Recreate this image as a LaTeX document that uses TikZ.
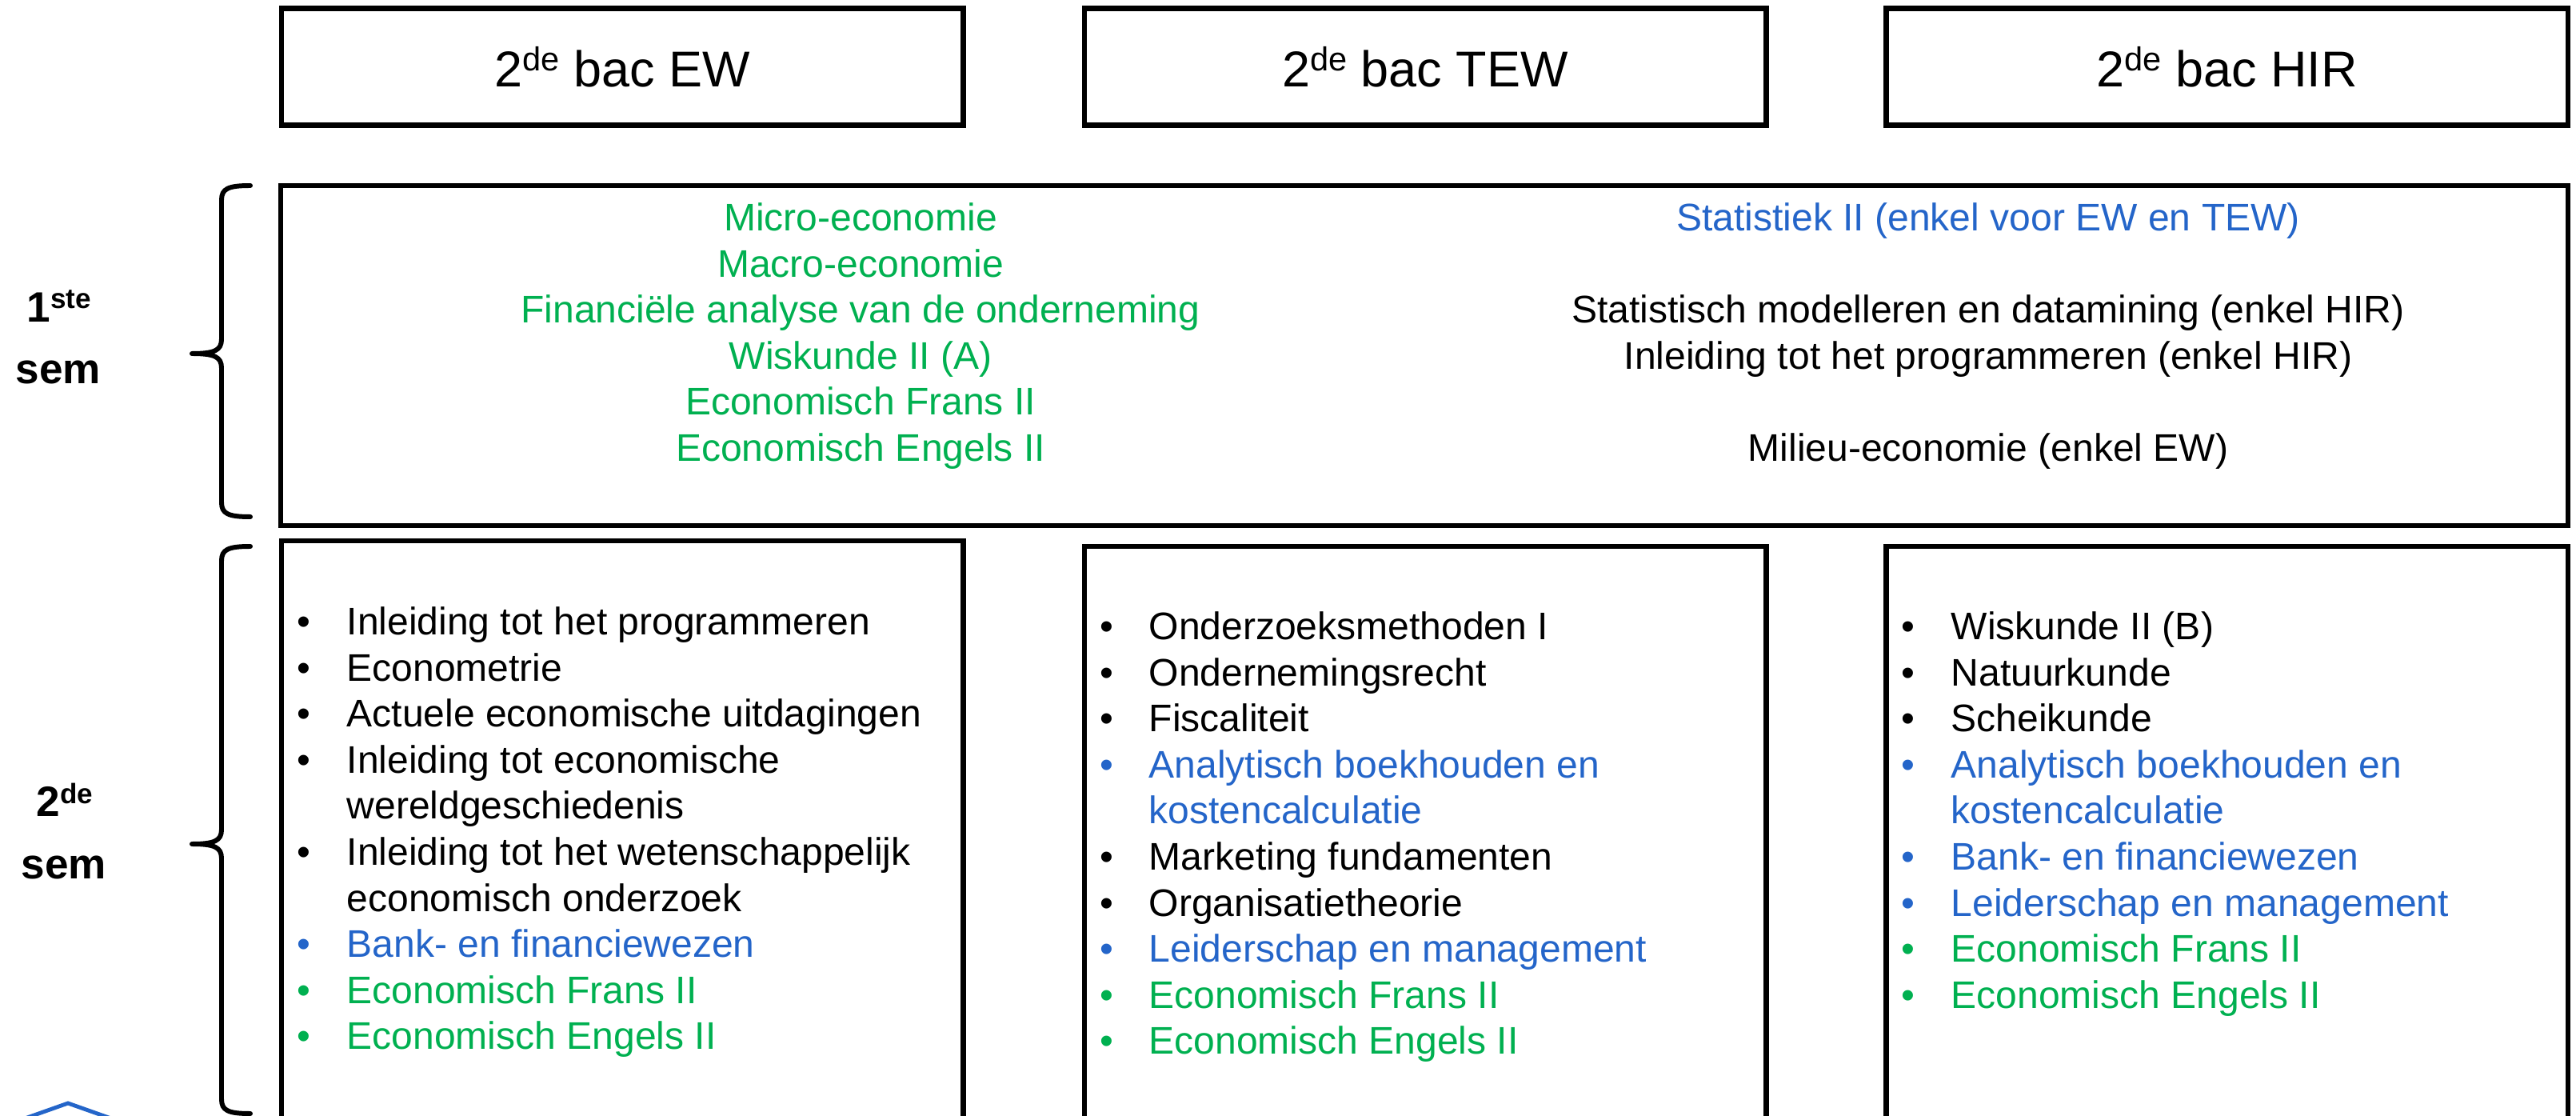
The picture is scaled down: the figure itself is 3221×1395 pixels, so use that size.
\documentclass[tikz,border=0pt]{standalone}
\usepackage{fontspec}
\setmainfont{Liberation Sans}
\usepackage{graphicx}

\definecolor{vakgroen}{RGB}{0,176,80}
\definecolor{vakblauw}{RGB}{36,101,201}

% superscript as in the slide (2de, 1ste)
\newcommand{\supr}[1]{\raisebox{0.32em}{\scalebox{0.66}{#1}}}

\tikzset{
    % boxes
    frame/.style={draw, line width=1.85pt, inner sep=0pt},
    headbox/.style={frame, minimum width=8.52cm, minimum height=1.46cm,
        font=\fontsize{17.9}{21}\selectfont},
    listbox/.style={frame, minimum width=8.52cm, minimum height=7.64cm},
    % texts
    vak/.style={anchor=base, inner sep=0pt, font=\fontsize{13.66}{16}\selectfont},
    vakitem/.style={vak, anchor=base west},
    semlabel/.style={anchor=base, inner sep=0pt, font=\fontsize{15.1}{18}\selectfont\bfseries},
    % curly brackets
    accolade/.style={line width=1.7pt, line cap=round, line join=round},
}

\begin{document}
\begin{tikzpicture}[x=0.01cm, y=-0.01cm]
    \useasboundingbox (0,0) rectangle (3221,1395);
    \clip (0,0) rectangle (3221,1395);

    % Column heads
    \node[headbox] (hew)  at (778,83.5)    {2\supr{de} bac EW};
    \node[headbox] (htew) at (1782,83.5)   {2\supr{de} bac TEW};
    \node[headbox] (hhir) at (2784.5,83.5) {2\supr{de} bac HIR};

    % 1ste semester
    \node[frame, minimum width=28.58cm, minimum height=4.25cm] (sem1) at (1781,444.5) {};
    \foreach \naam [count=\k from 0] in {Micro-economie, Macro-economie,
        Financiële analyse van de onderneming, Wiskunde II (A),
        Economisch Frans II, Economisch Engels II}
        \node[vak, text=vakgroen] (gem\k) at (1076,289+57.5*\k) {\naam};
    \node[vak, text=vakblauw] (stat)   at (2486,289)   {Statistiek II (enkel voor EW en TEW)};
    \node[vak]                (datam)  at (2486,404)   {Statistisch modelleren en datamining (enkel HIR)};
    \node[vak]                (prog)   at (2486,461.5) {Inleiding tot het programmeren (enkel HIR)};
    \node[vak]                (milieu) at (2486,576.5) {Milieu-economie (enkel EW)};

    % 2de semester
    \node[listbox] (ew)  at (778,1058)    {};
    \node[listbox] (tew) at (1782,1065)   {};
    \node[listbox] (hir) at (2784.5,1065) {};

    \foreach \i/\bol/\kl/\naam in {0/1/black/Inleiding tot het programmeren,
        1/1/black/Econometrie, 2/1/black/Actuele economische uitdagingen,
        3/1/black/Inleiding tot economische, 4/0/black/wereldgeschiedenis,
        5/1/black/Inleiding tot het wetenschappelijk, 6/0/black/economisch onderzoek,
        7/1/vakblauw/Bank- en financiewezen, 8/1/vakgroen/Economisch Frans II,
        9/1/vakgroen/Economisch Engels II}{
        \node[vakitem, text=\kl] (ew\i) at (433,794+57.5*\i) {\naam};
        \ifnum\bol=1 \node[vak, text=\kl] (ewb\i) at (380,794+57.5*\i) {\textbullet}; \fi
    }

    \foreach \i/\bol/\kl/\naam in {0/1/black/Onderzoeksmethoden I,
        1/1/black/Ondernemingsrecht, 2/1/black/Fiscaliteit,
        3/1/vakblauw/Analytisch boekhouden en, 4/0/vakblauw/kostencalculatie,
        5/1/black/Marketing fundamenten, 6/1/black/Organisatietheorie,
        7/1/vakblauw/Leiderschap en management, 8/1/vakgroen/Economisch Frans II,
        9/1/vakgroen/Economisch Engels II}{
        \node[vakitem, text=\kl] (tew\i) at (1436,800+57.5*\i) {\naam};
        \ifnum\bol=1 \node[vak, text=\kl] (tewb\i) at (1384,800+57.5*\i) {\textbullet}; \fi
    }

    \foreach \i/\bol/\kl/\naam in {0/1/black/Wiskunde II (B),
        1/1/black/Natuurkunde, 2/1/black/Scheikunde,
        3/1/vakblauw/Analytisch boekhouden en, 4/0/vakblauw/kostencalculatie,
        5/1/vakblauw/Bank- en financiewezen, 6/1/vakblauw/Leiderschap en management,
        7/1/vakgroen/Economisch Frans II, 8/1/vakgroen/Economisch Engels II}{
        \node[vakitem, text=\kl] (hir\i) at (2439,800+57.5*\i) {\naam};
        \ifnum\bol=1 \node[vak, text=\kl] (hirb\i) at (2386,800+57.5*\i) {\textbullet}; \fi
    }

    % Semester labels and brackets
    \node[semlabel] (een)     at (74,403)  {1\supr{ste}};
    \node[semlabel] (eensem)  at (73,480)  {sem};
    \node[semlabel] (twee)    at (81,1021) {2\supr{de}};
    \node[semlabel] (tweesem) at (80,1098) {sem};

    \draw[accolade] (313,232) .. controls (285,232) and (277,236) .. (277,250)
        -- (277,424) .. controls (277,438) and (268,442) .. (240,442)
        .. controls (268,442) and (277,446) .. (277,460)
        -- (277,628) .. controls (277,642) and (285,646) .. (313,646);
    \draw[accolade] (313,683) .. controls (285,683) and (277,687) .. (277,701)
        -- (277,1037) .. controls (277,1051) and (268,1055) .. (240,1055)
        .. controls (268,1055) and (277,1059) .. (277,1073)
        -- (277,1374) .. controls (277,1388) and (285,1392) .. (313,1392);

    % blue shape at the bottom edge
    \draw[vakblauw, line width=1.4pt] (20,1402) -- (85,1379) -- (150,1402);
\end{tikzpicture}
\end{document}
